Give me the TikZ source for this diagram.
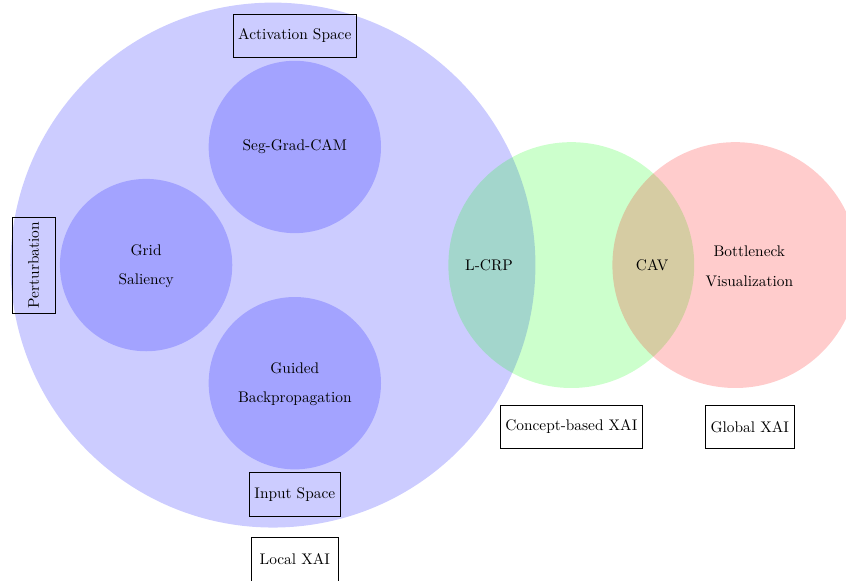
\documentclass[tikz,border=0pt]{standalone}
\usepackage{tikz}
\begin{document}
\begin{tikzpicture}[
	area/.style={fill opacity=0.2},
	label box/.style={draw,minimum height=1cm,minimum width=2cm},
	twoline/.style={align=center}]
	\useasboundingbox (-6.24,-7.2) rectangle (13.1,6.06);
	% local methods
	\fill[blue,area] (0,0) circle (6cm);
	\fill[blue,area] (0.5,2.7) circle (1.97cm);
	\fill[blue,area] (-2.9,0) circle (1.97cm);
	\fill[blue,area] (0.5,-2.7) circle (1.97cm);
	% concept-based and global
	\fill[green,area] (6.82,0) circle (2.81cm);
	\fill[red,area] (10.57,0) circle (2.81cm);
	\node (sgc) at (0.5,2.7) {Seg-Grad-CAM};
	\node[twoline] (grid) at (-2.9,-0.03) {Grid\\[7pt]Saliency};
	\node[twoline] (gbp) at (0.5,-2.73) {Guided\\[7pt]Backpropagation};
	\node (lcrp) at (4.94,0) {L-CRP};
	\node (cav) at (8.67,0) {CAV};
	\node[twoline] (bnv) at (10.89,-0.03) {Bottleneck\\[7pt]Visualization};
	\node[label box] (act) at (0.5,5.24) {Activation Space};
	\node[label box,rotate=90] (pert) at (-5.47,0) {Perturbation};
	\node[label box] (inp) at (0.5,-5.24) {Input Space};
	\node[label box] (local) at (0.5,-6.72) {Local XAI};
	\node[label box] (concept) at (6.82,-3.7) {Concept-based XAI};
	\node[label box] (global) at (10.9,-3.7) {Global XAI};
\end{tikzpicture}
\end{document}
